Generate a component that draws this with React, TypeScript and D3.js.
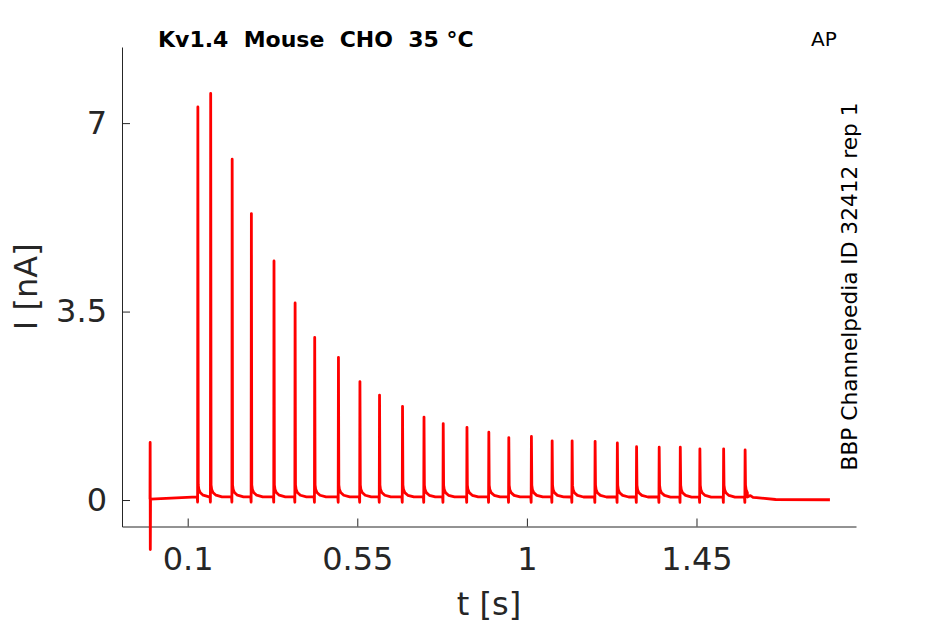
import { useEffect, useRef } from "react"
import * as d3 from "d3"

// spike onset times [s] and peak currents [nA]
const spikeTimes = [
  0.127, 0.161, 0.218, 0.269, 0.329, 0.385, 0.437, 0.5, 0.557, 0.609, 0.67, 0.727, 0.778, 0.841,
  0.899, 0.952, 1.012, 1.067, 1.12, 1.181, 1.24, 1.291, 1.351, 1.407, 1.459, 1.522, 1.579,
]
const spikePeaks = [
  7.3, 7.55, 6.33, 5.32, 4.44, 3.66, 3.02, 2.65, 2.2, 1.95, 1.74, 1.54, 1.42, 1.35, 1.26, 1.16,
  1.18, 1.1, 1.1, 1.09, 1.06, 0.99, 0.98, 0.98, 0.95, 0.95, 0.93,
]

// slow baseline drift
const baseTimes = [0, 0.12, 1.585, 1.6, 1.66, 1.804]
const baseValues = [0.015, 0.06, 0.055, 0.05, 0.01, 0.005]

// stimulus artifact at t = 0
const artifactTimes = [0, 0.0004, 0.0008, 0.0014]
const artifactValues = [0.015, 1.07, -0.92, 0.015]

// shape of a single spike around its peak (offset in s, level above baseline in nA)
const shapeOffsets = [-0.0016, -0.0007, 0, 0.001, 0.0025, 0.006, 0.014, 0.03]
const shapeLevels = [0, -0.1, NaN, 0.22, 0.14, 0.08, 0.03, 0]

const xTicks = [0.1, 0.55, 1, 1.45]
const yTicks = [0, 3.5, 7]

const titleText = "Kv1.4  Mouse  CHO  35 °C"
const sideText = "BBP Channelpedia ID 32412 rep 1"

export default function App() {
  const svgRef = useRef<SVGSVGElement>(null)

  useEffect(() => {
    if (!svgRef.current) return
    const W = 945
    const H = 624
    const left = 122
    const right = 856
    const top = 47
    const bottom = 526.5

    const svg = d3.select(svgRef.current)
    svg.selectAll("*").remove()

    const x = d3.scaleLinear().domain([-0.0743, 1.8732]).range([left, right])
    const y = d3.scaleLinear().domain([-0.4917, 8.4137]).range([bottom, top])
    const base = d3.scaleLinear().domain(baseTimes).range(baseValues).clamp(true)

    // assemble the trace
    const pts: [number, number][] = []
    artifactTimes.forEach((t, i) => pts.push([t, artifactValues[i]]))
    spikeTimes.forEach((st, i) => {
      shapeOffsets.forEach((o, j) => {
        const t = st + o
        const lv = isNaN(shapeLevels[j]) ? spikePeaks[i] : base(t) + shapeLevels[j]
        pts.push([t, lv])
      })
    })
    baseTimes.forEach((t, i) => {
      if (t > 1.58 || t < 0.12) pts.push([t, baseValues[i]])
    })
    pts.sort((a, b) => a[0] - b[0])

    const line = d3
      .line<[number, number]>()
      .x((d) => x(d[0]))
      .y((d) => y(d[1]))

    const axisColor = "#262626"

    // x axis
    const gx = svg
      .append("g")
      .attr("transform", `translate(0,${bottom})`)
      .call(
        d3
          .axisBottom(x)
          .tickValues(xTicks)
          .tickFormat((d) => String(d))
          .tickSizeInner(-8)
          .tickSizeOuter(0)
          .tickPadding(21)
      )
    gx.attr("font-family", "DejaVu Sans").attr("font-size", 32)
    gx.select(".domain").attr("stroke", axisColor)
    gx.selectAll(".tick line").attr("stroke", axisColor)
    gx.selectAll(".tick text").attr("fill", axisColor)

    // y axis
    const gy = svg
      .append("g")
      .attr("transform", `translate(${left},0)`)
      .call(
        d3
          .axisLeft(y)
          .tickValues(yTicks)
          .tickFormat((d) => String(d))
          .tickSizeInner(-8)
          .tickSizeOuter(0)
          .tickPadding(15)
      )
    gy.attr("font-family", "DejaVu Sans").attr("font-size", 32)
    gy.select(".domain").attr("stroke", axisColor)
    gy.selectAll(".tick line").attr("stroke", axisColor)
    gy.selectAll(".tick text").attr("fill", axisColor)

    // trace
    svg
      .append("path")
      .datum(pts)
      .attr("d", line)
      .attr("fill", "none")
      .attr("stroke", "#ff0000")
      .attr("stroke-width", 2.8)
      .attr("stroke-linejoin", "round")

    // axis labels
    svg
      .append("text")
      .attr("x", (left + right) / 2)
      .attr("y", 615)
      .attr("text-anchor", "middle")
      .attr("font-family", "DejaVu Sans")
      .attr("font-size", 32)
      .attr("fill", axisColor)
      .text("t [s]")

    svg
      .append("text")
      .attr("transform", `translate(37,${(top + bottom) / 2}) rotate(-90)`)
      .attr("text-anchor", "middle")
      .attr("font-family", "DejaVu Sans")
      .attr("font-size", 32)
      .attr("fill", axisColor)
      .text("I [nA]")

    // title
    svg
      .append("text")
      .attr("x", 158)
      .attr("y", 47)
      .attr("font-family", "DejaVu Sans")
      .attr("font-weight", "bold")
      .attr("font-size", 22)
      .style("white-space", "pre")
      .attr("fill", "#000")
      .text(titleText)

    svg
      .append("text")
      .attr("x", 811)
      .attr("y", 46)
      .attr("font-family", "DejaVu Sans")
      .attr("font-size", 20)
      .attr("fill", "#000")
      .text("AP")

    svg
      .append("text")
      .attr("transform", `translate(857,286.5) rotate(-90)`)
      .attr("text-anchor", "middle")
      .attr("font-family", "DejaVu Sans")
      .attr("font-size", 21.7)
      .attr("fill", "#000")
      .text(sideText)

    svg.attr("width", W).attr("height", H)
  }, [])

  return (
    <svg
      ref={svgRef}
      width={945}
      height={624}
      style={{ position: "absolute", left: 0, top: 0, background: "#fff" }}
    />
  )
}
